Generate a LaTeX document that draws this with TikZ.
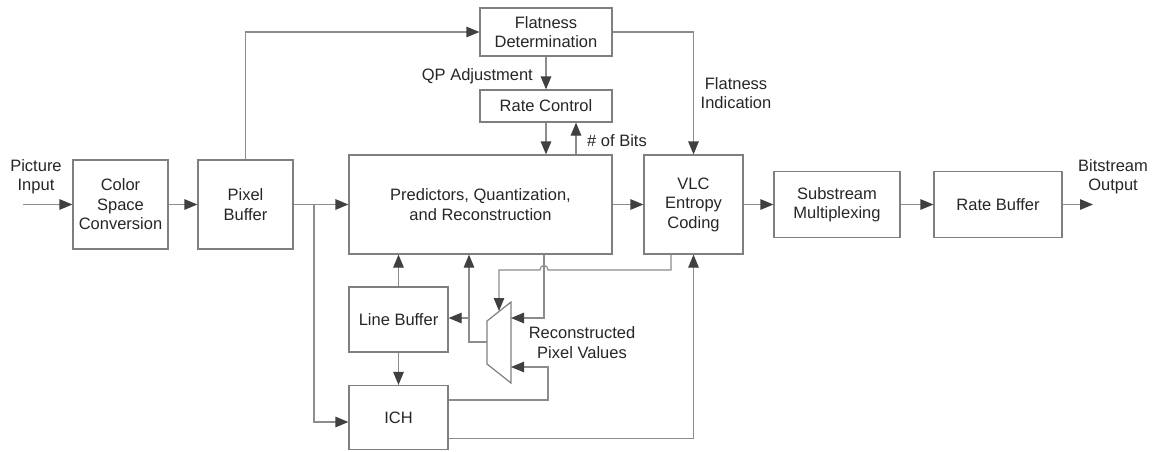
\documentclass[tikz,border=0pt]{standalone}
\usepackage{fontspec}
\setmainfont{Liberation Sans}
\usetikzlibrary{arrows.meta,calc}

\definecolor{boxc}{HTML}{7F7F7F}
\definecolor{linec}{HTML}{8C8C8C}
\definecolor{tipc}{HTML}{404040}
\definecolor{txtc}{HTML}{262626}

\begin{document}
\begin{tikzpicture}[x=1pt,y=-1pt,
  font=\fontsize{16.5}{19.5}\selectfont,
  blk/.style={draw=boxc,line width=1.2pt,text=txtc,align=center,inner sep=0pt},
  wire/.style={draw=linec,line width=1.2pt},
  arr/.style={wire,-{Triangle[length=13pt,width=10.5pt,color=tipc]}},
  lbl/.style={text=txtc,align=center,inner sep=0pt}]

\useasboundingbox (0,0) rectangle (1158,451);

% processing blocks
\node[blk,minimum width=95pt,minimum height=89pt]  (csc)  at (120.5,204.5) {Color\\Space\\Conversion};
\node[blk,minimum width=95pt,minimum height=89pt]  (pb)   at (245.5,204.5) {Pixel\\Buffer};
\node[blk,minimum width=132pt,minimum height=48pt] (flat) at (546,32)      {Flatness\\Determination};
\node[blk,minimum width=132pt,minimum height=32pt] (rc)   at (546,106)     {Rate Control};
\node[blk,minimum width=263pt,minimum height=99pt] (pred) at (480.5,204.5) {Predictors, Quantization,\\and Reconstruction};
\node[blk,minimum width=99pt,minimum height=99pt]  (vlc)  at (693.5,204.5) {VLC\\Entropy\\Coding};
\node[blk,minimum width=126pt,minimum height=66pt] (sub)  at (837,204.5)   {Substream\\Multiplexing};
\node[blk,minimum width=128pt,minimum height=66pt] (rb)   at (998,204.5)   {Rate Buffer};
\node[blk,minimum width=99pt,minimum height=65pt]  (lb)   at (398.5,319.5) {Line Buffer};
\node[blk,minimum width=99pt,minimum height=64pt]  (ich)  at (398.5,417.5) {ICH};

% multiplexer (trapezoid)
\coordinate (m1) at (487,321);
\coordinate (m2) at (511,302);
\coordinate (m3) at (511,383);
\coordinate (m4) at (487,364);
\draw[draw=boxc,line width=1.2pt] (m1) -- (m2) -- (m3) -- (m4) -- cycle;
\coordinate (mo)  at (487,342);
\coordinate (mi1) at (511,318);
\coordinate (mi2) at (511,367);
\coordinate (mt)  at (499,311);

% labels
\node[lbl] (pin)  at (36,176.5)   {Picture\\Input};
\node[lbl] (bout) at (1113,176.5) {Bitstream\\Output};
\node[lbl,anchor=east] (qp) at (533,76) {QP Adjustment};
\node[lbl,anchor=west] (nb) at (587,141) {\# of Bits};
\node[lbl] (fi)  at (736,93)    {Flatness\\Indication};
\node[lbl] (rpv) at (582,342.5) {Reconstructed\\Pixel Values};

% helper points
\coordinate (in)   at (23,204.5);
\coordinate (out)  at (1093,204.5);
\coordinate (j1)   at (314,204.5);
\coordinate (bits) at ($(rc.south)+(30,0)$);
\coordinate (tap)  at (469,318);
\coordinate (fbx)  at (544,0);
\coordinate (lp)   at (548,367);
\coordinate (ichr) at ($(ich.north east)+(0,15)$);
\coordinate (io)   at ($(ich.south east)+(0,-12)$);
\coordinate (vo)   at ($(vlc.south)+(-22.5,0)$);

% main data path
\draw[arr] (in) -- (csc);
\draw[arr] (csc) -- (pb);
\draw[arr] (pb) -- (pred);
\draw[arr] (pred) -- (vlc);
\draw[arr] (vlc) -- (sub);
\draw[arr] (sub) -- (rb);
\draw[arr] (rb) -- (out);

% flatness and rate control
\draw[arr] (pb.north) |- (flat.west);
\draw[arr] (flat.east) -| (vlc.north);
\draw[arr] (flat) -- (rc);
\draw[arr] (rc.south) -- (rc.south |- pred.north);
\draw[arr] (bits |- pred.north) -- (bits);

% pixel buffer to ICH
\draw[arr] (j1) |- ($(ich.west)+(0,4.5)$);

% line buffer and ICH
\draw[arr] (lb) -- (lb |- pred.south);
\draw[arr] (lb) -- (ich);

% reconstructed pixel feedback
\draw[arr] (mo) -| (tap |- pred.south);
\draw[arr] (tap) -- (tap -| lb.east);
\draw[arr] (fbx |- pred.south) |- (mi1);
\draw[arr] (ichr) -| (lp) -- (mi2);
\draw[arr] (vo) -- (vo |- 0,270) -- (548,270) .. controls (548,264) and (540,264) .. (540,270) -- (mt |- 0,270) -- (mt);
\draw[arr] (io) -| (vlc.south);
\end{tikzpicture}
\end{document}
